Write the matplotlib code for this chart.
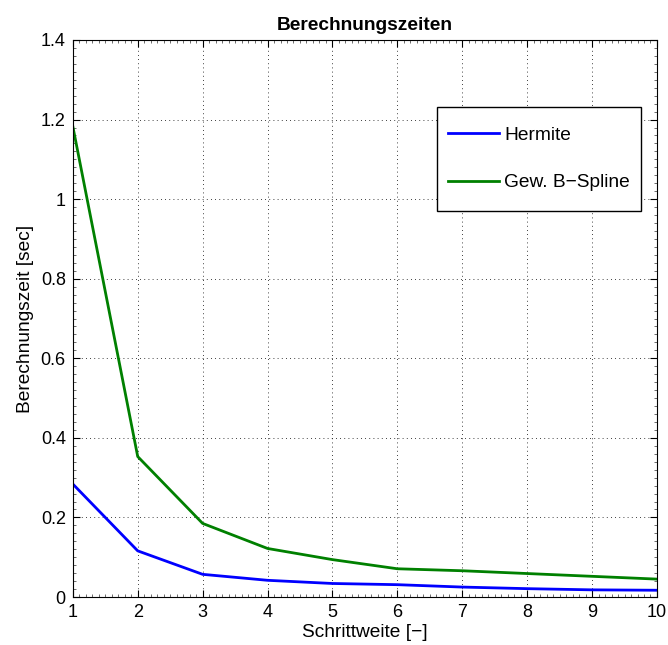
import matplotlib
matplotlib.use("Agg")
import matplotlib.pyplot as plt
from matplotlib.patches import Rectangle
from matplotlib.ticker import AutoMinorLocator, MultipleLocator

plt.rcParams['font.family'] = ['Liberation Sans', 'DejaVu Sans']

schrittweite = [1, 2, 3, 4, 5, 6, 7, 8, 9, 10]
hermite = [0.284, 0.116, 0.057, 0.042, 0.034, 0.031, 0.025, 0.021, 0.018, 0.017]
bspline = [1.183, 0.353, 0.185, 0.122, 0.094, 0.071, 0.066, 0.059, 0.052, 0.045]

tick_fs = 13
label_fs = 13.8

fig = plt.figure(figsize=(6.68, 6.45), dpi=100)
ax = fig.add_axes([0.109, 0.0744, 0.8745, 0.8636])

ax.plot(schrittweite, hermite, color=(0, 0, 1), lw=2.0, label='Hermite')
ax.plot(schrittweite, bspline, color=(0, 0.5, 0), lw=2.0, label='Gew. B\u2212Spline')

ax.set_xlim(1, 10)
ax.set_ylim(0, 1.4)
ax.xaxis.set_major_locator(MultipleLocator(1))
ax.xaxis.set_minor_locator(AutoMinorLocator(10))
ax.set_yticks([0, 0.2, 0.4, 0.6, 0.8, 1.0, 1.2, 1.4])
ax.set_yticklabels(['0', '0.2', '0.4', '0.6', '0.8', '1', '1.2', '1.4'])
ax.yaxis.set_minor_locator(AutoMinorLocator(10))

ax.tick_params(which='both', direction='in', top=True, right=True,
               labelsize=tick_fs, pad=5)
ax.tick_params(which='major', length=5, width=0.8)
ax.tick_params(which='minor', length=2.5, width=0.6, color='#555555')
ax.grid(True, which='major', linestyle=(0, (1, 4)), color='black', linewidth=0.6)
for s in ax.spines.values():
    s.set_linewidth(0.8)

ax.set_xlabel('Schrittweite [\u2212]', fontsize=label_fs, labelpad=2)
ax.set_ylabel('Berechnungszeit [sec]', fontsize=label_fs, labelpad=5)
ax.set_title('Berechnungszeiten', fontsize=label_fs, fontweight='bold', pad=7)

# legend box with a taller than wide padding
box_x0, box_x1 = 0.6233, 0.9726
box_y0, box_y1 = 0.693, 0.8797
ax.add_patch(Rectangle((box_x0, box_y0), box_x1 - box_x0, box_y1 - box_y0,
                       transform=ax.transAxes, facecolor='white',
                       edgecolor='black', linewidth=1.0, zorder=4))
leg = ax.legend(loc='center', bbox_to_anchor=((box_x0 + box_x1) / 2, (box_y0 + box_y1) / 2),
                fontsize=label_fs, frameon=False,
                handlelength=2.65, labelspacing=1.55, borderpad=0,
                handletextpad=0.28, borderaxespad=0)
leg.set_zorder(5)

fig.savefig('out.png', dpi=100)
